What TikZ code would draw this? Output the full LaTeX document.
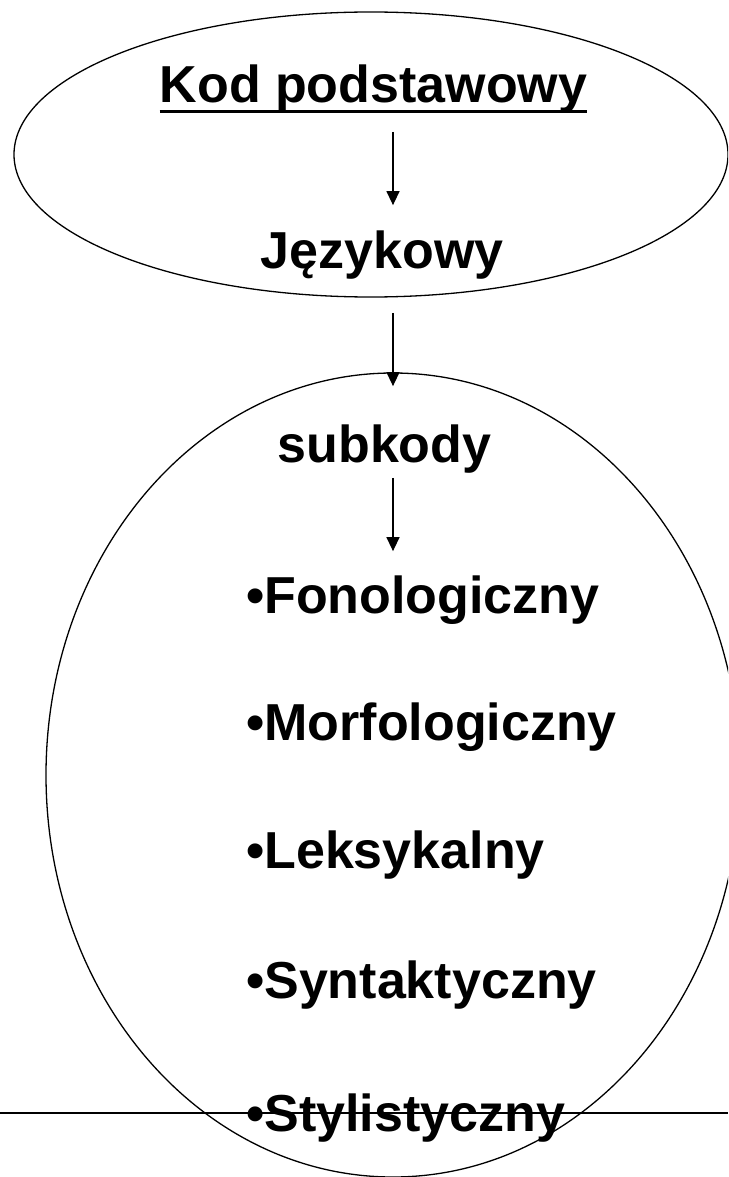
\documentclass[tikz,border=0pt]{standalone}
\usepackage{fontspec}
\setmainfont{Liberation Sans}
\usetikzlibrary{arrows.meta}
\tikzset{
  lbl/.style={font=\bfseries\fontsize{52}{60}\selectfont,inner sep=0pt,anchor=base},
  item/.style={lbl,anchor=base west},
  arr/.style={line width=1.4pt,-{Triangle[length=14pt,width=13pt]}},
  ring/.style={line width=1.3pt}
}
\begin{document}
\begin{tikzpicture}[x=1pt,y=-1pt]
    \useasboundingbox (0,0) rectangle (728,1177);
    \clip (0,0) rectangle (728,1177);
    % ovals
    \draw[ring] (371,154.5) ellipse [x radius=357pt,y radius=142.5pt];
    \draw[ring] (393,775) ellipse [x radius=347pt,y radius=402pt];
    \draw[line width=1.3pt] (0,1113) -- (728,1113);
    % labels
    \node[lbl] (kod) at (373.5,103) {Kod podstawowy};
    \draw[line width=3pt] ([yshift=-9pt]kod.base west) -- ([yshift=-9pt]kod.base east);
    \node[lbl] (jez) at (382,268) {Językowy};
    \node[lbl] (sub) at (384.5,462) {subkody};
    \foreach \nm/\txt/\yy in {fono/Fonologiczny/613,morf/Morfologiczny/740,leks/Leksykalny/868,synt/Syntaktyczny/998,styl/Stylistyczny/1131}
        \node[item] (\nm) at (246,\yy) {•\txt};
    % arrows
    \coordinate (axis) at (393,0);
    \draw[arr,shorten <=18pt,shorten >=25pt] (kod.south -| axis) -- (jez.north -| axis);
    \draw[arr,shorten <=34pt,shorten >=38pt] (jez.south -| axis) -- (sub.north -| axis);
    \draw[arr,shorten <=5pt,shorten >=24pt] (sub.south -| axis) -- (fono.north -| axis);
\end{tikzpicture}
\end{document}
